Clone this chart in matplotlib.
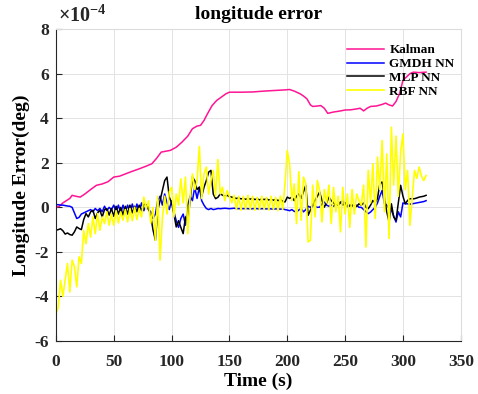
import numpy as np
import matplotlib
matplotlib.use("Agg")
import matplotlib.pyplot as plt

plt.rcParams['font.family'] = ['Liberation Serif', 'DejaVu Serif']
plt.rcParams['font.weight'] = 'bold'
plt.rcParams['mathtext.fontset'] = 'custom'
plt.rcParams['mathtext.rm'] = 'Liberation Serif'
plt.rcParams['axes.unicode_minus'] = False

# Kalman error, smooth curve (time in s, error in 1e-4 deg)
t_kalman = [0, 3, 6, 9, 12, 14, 17, 21, 25, 30, 35, 40, 45, 50, 55, 60, 65, 72, 78, 83,
            87, 91, 95, 99, 104, 109, 114, 118, 122, 125, 128, 131, 135, 139, 143, 147,
            150, 160, 170, 180, 190, 197, 202, 206, 211, 214, 217, 220, 222, 226, 229,
            232, 235, 240, 245, 250, 255, 260, 263, 266, 269, 272, 277, 282, 285, 288,
            291, 294, 297, 300, 303, 306, 309, 314, 320]
kalman = [0.00, 0.05, 0.20, 0.30, 0.40, 0.54, 0.50, 0.46, 0.60, 0.80, 0.99, 1.05, 1.15,
          1.36, 1.40, 1.50, 1.60, 1.73, 1.85, 1.96, 2.20, 2.48, 2.52, 2.56, 2.70, 2.93,
          3.20, 3.53, 3.65, 3.68, 3.90, 4.20, 4.57, 4.80, 4.95, 5.10, 5.17, 5.17, 5.18,
          5.22, 5.25, 5.27, 5.29, 5.22, 5.10, 5.00, 4.87, 4.60, 4.53, 4.55, 4.57, 4.45,
          4.22, 4.28, 4.32, 4.37, 4.38, 4.42, 4.45, 4.33, 4.45, 4.53, 4.55, 4.62, 4.68,
          4.60, 4.55, 4.75, 5.10, 5.70, 5.85, 6.00, 6.07, 6.05, 6.07]

# network outputs sampled every 2 s from 0 to 320 s
t_nn = np.arange(0, 321, 2)

gmdh = [0.12, 0.12, 0.10, 0.10, 0.08, 0.06, 0.05, 0.00, -0.25, -0.50,
        -0.45, -0.30, -0.25, -0.20, -0.15, -0.10, -0.20, -0.05, -0.15, -0.05,
        -0.20, 0.05, -0.15, 0.00, -0.10, 0.10, -0.20, 0.10, -0.25, 0.10,
        -0.20, 0.10, -0.25, 0.15, -0.20, 0.15, -0.20, 0.20, -0.15, 0.10,
        -0.10, -0.20, -0.50, -0.30, 0.30, 0.50, 0.10, 0.60, 0.20, -0.10,
        0.30, -0.20, -0.60, -0.90, -0.50, -0.30, -0.80, 0.10, 0.50, 0.30,
        0.90, 0.40, 0.90, 0.30, 0.10, -0.05, -0.10, -0.05, -0.10, -0.08,
        -0.05, -0.06, -0.05, -0.04, -0.05, -0.06, -0.05, -0.04, -0.05, -0.06,
        -0.05, -0.06, -0.05, -0.06, -0.07, -0.06, -0.05, -0.06, -0.07, -0.06,
        -0.06, -0.07, -0.06, -0.07, -0.08, -0.07, -0.06, -0.08, -0.07, -0.10,
        -0.12, -0.15, -0.10, -0.18, -0.20, -0.12, -0.05, -0.20, -0.10, 0.05,
        0.00, 0.10, 0.05, 0.00, 0.01, 0.15, 0.24, 0.10, 0.05, 0.10,
        0.05, 0.12, 0.09, 0.20, 0.30, 0.15, 0.03, 0.10, 0.10, 0.05,
        0.10, 0.00, 0.00, -0.10, -0.20, -0.28, -0.21, -0.10, 0.00, 0.20,
        0.50, 0.76, 0.16, 0.10, -0.05, -0.13, -0.40, -0.66, -0.20, -0.43,
        0.20, 0.16, 0.16, 0.14, 0.16, 0.18, 0.20, 0.22, 0.24, 0.26,
        0.30]

mlp = [-1.03, -1.00, -0.96, -1.05, -1.20, -1.15, -1.22, -1.25, -1.10, -0.88,
       -0.95, -1.00, -0.55, -0.28, -0.43, -0.20, -0.13, -0.50, -0.25, -0.13,
       -0.43, -0.10, -0.06, -0.35, -0.05, -0.40, 0.05, -0.30, 0.00, -0.35,
       0.05, -0.30, 0.10, -0.25, 0.05, -0.20, 0.10, -0.15, 0.15, 0.10,
       0.00, -0.40, -1.03, -1.48, -0.13, 0.30, 0.76, 1.20, 1.36, 0.46,
       0.20, -0.30, -0.88, -0.60, -0.90, -1.18, -0.43, -0.60, 0.30, 1.36,
       1.20, 0.80, 0.91, 0.50, 0.90, 1.20, 1.58, 1.66, 0.60, 0.39,
       0.45, 0.60, 0.55, 0.50, 0.54, 0.48, 0.46, 0.42, 0.40, 0.42,
       0.38, 0.40, 0.36, 0.39, 0.37, 0.40, 0.35, 0.38, 0.34, 0.37,
       0.35, 0.38, 0.33, 0.36, 0.32, 0.36, 0.30, 0.34, 0.28, 0.24,
       0.46, 0.40, 0.46, 0.30, 0.50, 0.61, 0.40, 0.70, 0.99, -0.36,
       -0.13, 0.10, 0.31, 0.50, 0.69, 0.30, 0.01, 0.20, 0.46, 0.30,
       0.20, 0.09, 0.15, 0.24, 0.10, 0.20, 0.09, 0.05, 0.10, 0.00,
       0.05, 0.16, 0.10, 0.20, 0.00, -0.06, 0.10, 0.31, 0.20, 0.40,
       1.06, 1.14, 0.46, -0.20, -0.66, 0.16, -0.43, -0.58, 0.20, 0.99,
       0.50, 0.16, 0.31, 0.39, 0.38, 0.39, 0.42, 0.46, 0.48, 0.50,
       0.54]

rbf = [-4.77, -4.50, -3.27, -4.00, -3.27, -2.52, -3.80, -2.37, -2.67, -3.57,
       -2.22, -2.52, -1.03, -1.63, -0.73, -1.33, -0.43, -1.18, -0.28, -1.03,
       -0.43, -0.73, -0.20, -0.80, -0.30, -0.80, -0.15, -0.70, -0.20, -0.58,
       -0.10, -0.65, -0.05, -0.60, 0.00, -0.55, -0.05, -0.43, 0.46, -0.10,
       0.30, -0.70, 0.00, -1.48, 0.50, -2.37, -0.50, 0.50, -0.30, 0.70,
       0.90, -0.43, 0.60, 0.10, 1.28, 0.20, 1.36, -1.18, 0.50, 1.50,
       0.80, 1.20, 2.73, 0.40, 1.50, 1.81, 0.60, 1.20, 1.66, 0.50,
       2.14, 0.60, 0.90, 0.30, 0.75, 0.50, 0.20, 0.54, -0.10, 0.50,
       -0.13, 0.50, -0.10, 0.54, -0.10, 0.50, -0.13, 0.45, -0.10, 0.50,
       -0.10, 0.45, -0.12, 0.50, -0.10, 0.45, -0.15, 0.50, -0.10, 1.00,
       2.55, 1.96, 0.30, 1.05, -0.73, 1.60, -0.58, 1.36, 1.06, -1.55,
       -1.48, 1.00, -0.43, 1.20, 0.76, -0.66, 0.80, 0.20, 1.00, -0.73,
       0.90, -0.20, 0.50, -1.10, 0.90, -0.30, 0.60, -0.90, 0.80, -0.30,
       0.60, 0.30, 0.10, 1.00, -1.78, 1.66, 0.20, 1.96, -0.50, 2.26,
       0.80, 3.00, -0.20, 2.40, -1.40, 3.60, 1.00, 3.20, 0.50, 2.50,
       3.30, 0.80, 1.66, -0.81, 0.40, 1.66, 1.30, 1.81, 1.40, 1.20,
       1.43]

x_ticks = [0, 50, 100, 150, 200, 250, 300, 350]
y_ticks = [-6, -4, -2, 0, 2, 4, 6, 8]

fig = plt.figure(figsize=(4.78, 3.94), dpi=100)
ax = fig.add_axes([0.117, 0.1345, 0.847, 0.7915])

# values are plotted in units of 1e-4 deg, the exponent is written above the axis
ax.plot(t_kalman, kalman, color='#ff1493', lw=1.1, label='Kalman')
ax.plot(t_nn, gmdh, color='#0000ff', lw=1.1, label='GMDH NN')
ax.plot(t_nn, mlp, color='black', lw=1.1, label='MLP NN')
ax.plot(t_nn, rbf, color='#ffff00', lw=1.2, label='RBF NN')

ax.set_xlim(0, 350)
ax.set_ylim(-6, 8)
ax.set_xticks(x_ticks)
ax.set_yticks(y_ticks)
ax.text(0.005, 1.008, r'$\times10^{-4}$', transform=ax.transAxes, fontsize=14.5,
        fontweight='normal', ha='left', va='bottom', color='#262626')

ax.grid(True, color='#e3e3e3', lw=0.7)
ax.set_axisbelow(True)
for side in ['top', 'right']:
    ax.spines[side].set_color('#dcdcdc')
for side in ['left', 'bottom']:
    ax.spines[side].set_color('#262626')
ax.tick_params(direction='in', length=4, labelsize=12.5, colors='#262626',
               top=False, right=False)
ax.tick_params(axis='x', pad=9)
ax.tick_params(axis='y', pad=5)

ax.set_title('longitude error', fontsize=14, fontweight='bold', pad=7)
ax.set_xlabel('Time (s)', fontsize=14, fontweight='bold', labelpad=2)
ax.set_ylabel('Longitude Error(deg)', fontsize=14, fontweight='bold', labelpad=3)

leg = ax.legend(loc='upper left', bbox_to_anchor=(0.69, 0.99), frameon=False,
                fontsize=9.5, handlelength=2.8, labelspacing=0.12, handletextpad=0.4)

fig.savefig('out.png', dpi=100)
